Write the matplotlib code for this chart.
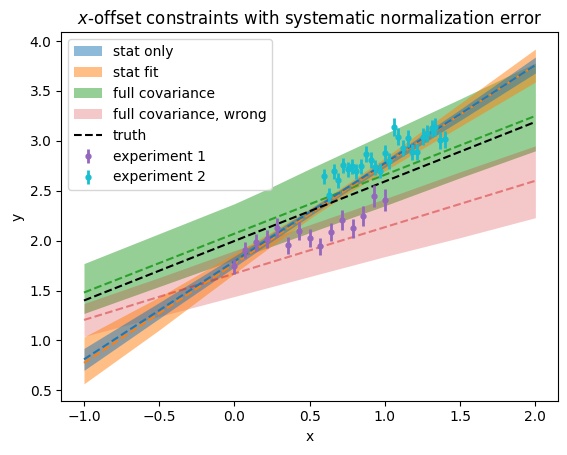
import matplotlib.pyplot as plt

x_band = [-1.0, -0.5, 0.0, 0.25, 0.5, 0.75, 1.0, 1.5, 2.0]

# stat only (blue)
stat_lo = [0.70, 1.22, 1.735, 1.995, 2.245, 2.495, 2.735, 3.205, 3.68]
stat_hi = [0.92, 1.38, 1.845, 2.075, 2.315, 2.555, 2.805, 3.315, 3.84]
# stat fit (orange)
fit_lo = [0.565, 1.105, 1.67, 1.95, 2.22, 2.47, 2.70, 3.145, 3.59]
fit_hi = [1.035, 1.435, 1.87, 2.09, 2.32, 2.57, 2.83, 3.375, 3.92]
# full covariance (green)
cov_lo = [1.27, 1.54, 1.81, 1.945, 2.08, 2.215, 2.35, 2.63, 2.90]
cov_hi = [1.77, 2.07, 2.37, 2.54, 2.72, 2.895, 3.07, 3.42, 3.78]
# full covariance, wrong (red)
wrong_lo = [1.04, 1.24, 1.44, 1.54, 1.64, 1.74, 1.84, 2.03, 2.23]
wrong_hi = [1.37, 1.63, 1.90, 2.03, 2.16, 2.29, 2.42, 2.69, 2.95]

# fitted lines (straight, given at the ends)
x_line = [-1.0, 2.0]
truth = [1.40, 3.19]
stat_line = [0.81, 3.76]
fit_line = [0.775, 3.76]
cov_line = [1.48, 3.25]
wrong_line = [1.205, 2.60]

# experiment 1
x1 = [0.0, 0.071, 0.143, 0.214, 0.286, 0.357, 0.429, 0.5,
      0.571, 0.643, 0.714, 0.786, 0.857, 0.929, 1.0]
y1 = [1.745, 1.906, 1.983, 2.016, 2.13, 1.956, 2.096, 2.03,
      1.946, 2.09, 2.206, 2.123, 2.246, 2.447, 2.41]
e1 = [0.075, 0.08, 0.085, 0.09, 0.095, 0.085, 0.09, 0.09,
      0.085, 0.09, 0.1, 0.095, 0.1, 0.11, 0.11]

# experiment 2
x2 = [0.595, 0.628, 0.661, 0.688, 0.723, 0.752, 0.78, 0.81, 0.84,
      0.874, 0.905, 0.933, 0.967, 1.0, 1.028, 1.06, 1.088, 1.12,
      1.155, 1.183, 1.214, 1.25, 1.28, 1.31, 1.334, 1.365, 1.398]
y2 = [2.647, 2.457, 2.697, 2.607, 2.757, 2.714, 2.747, 2.697, 2.747,
      2.868, 2.81, 2.735, 2.70, 2.875, 2.80, 3.135, 3.04, 2.925,
      3.025, 2.89, 2.885, 3.04, 3.075, 3.125, 3.14, 3.008, 3.015]
e2 = [0.075, 0.07, 0.075, 0.075, 0.075, 0.075, 0.075, 0.075, 0.075,
      0.08, 0.08, 0.075, 0.075, 0.08, 0.08, 0.09, 0.085, 0.08,
      0.085, 0.08, 0.08, 0.085, 0.085, 0.085, 0.09, 0.085, 0.085]

fig = plt.figure(figsize=(5.67, 4.55), dpi=100)
ax = fig.add_axes([0.1083, 0.1196, 0.8757, 0.8094])

# bands drawn bottom to top: green, red, orange, blue
h_cov = ax.fill_between(x_band, cov_lo, cov_hi, color="C2", alpha=0.5, lw=0,
                        label="full covariance")
ax.plot(x_line, cov_line, "--", color="C2")
h_wrong = ax.fill_between(x_band, wrong_lo, wrong_hi, color="C3", alpha=0.25, lw=0,
                          label="full covariance, wrong")
ax.plot(x_line, wrong_line, "--", color="C3", alpha=0.5)
h_fit = ax.fill_between(x_band, fit_lo, fit_hi, color="C1", alpha=0.5, lw=0,
                        label="stat fit")
ax.plot(x_line, fit_line, "--", color="C1")
h_stat = ax.fill_between(x_band, stat_lo, stat_hi, color="C0", alpha=0.5, lw=0,
                         label="stat only")
ax.plot(x_line, stat_line, "--", color="C0")

h_truth, = ax.plot(x_line, truth, "--k", label="truth")
h_e1 = ax.errorbar(x1, y1, e1, fmt="o", ms=3.5, elinewidth=2, color="C4",
                   label="experiment 1")
h_e2 = ax.errorbar(x2, y2, e2, fmt="o", ms=3.5, elinewidth=2, color="C9",
                   label="experiment 2")

ax.set_xlim(-1.15, 2.15)
ax.set_ylim(0.397, 4.088)
ax.set_xlabel("x")
ax.set_ylabel("y")
ax.set_title("$x$-offset constraints with systematic normalization error")
ax.legend(handles=[h_stat, h_fit, h_cov, h_wrong, h_truth, h_e1, h_e2],
          loc="upper left")

fig.savefig("out.png")
